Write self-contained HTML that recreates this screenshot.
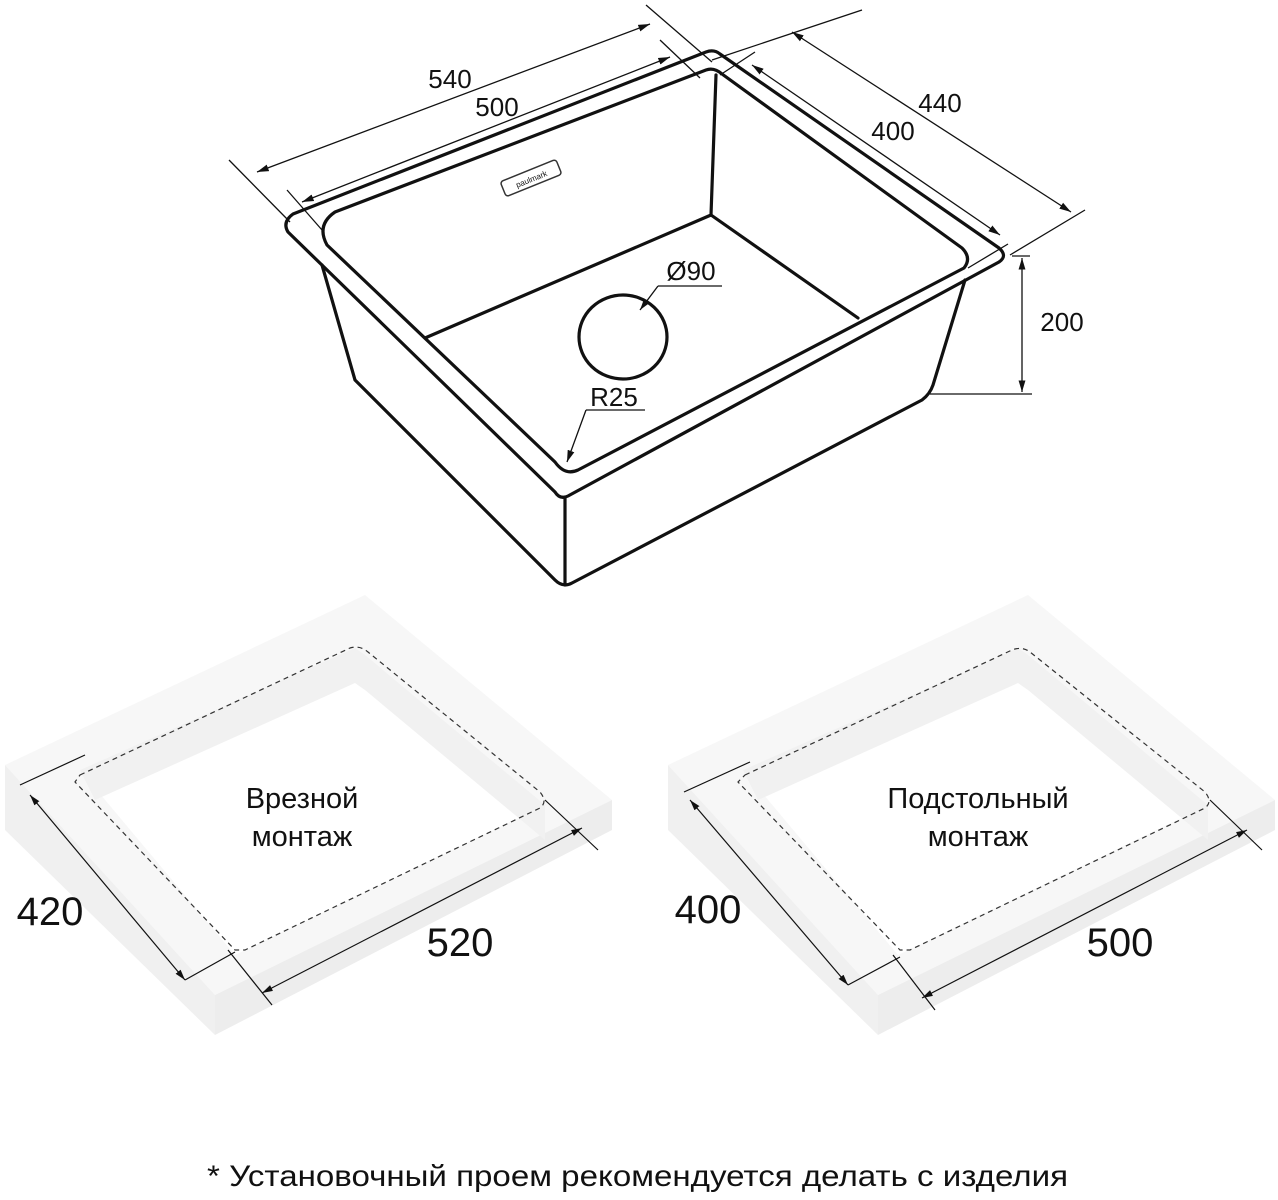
<!DOCTYPE html>
<html><head><meta charset="utf-8"><style>
html,body{margin:0;padding:0;background:#fff}
svg{display:block}
text{font-family:"Liberation Sans",sans-serif;fill:#111}
</style></head><body>
<svg width="1278" height="1200" viewBox="0 0 1278 1200" xmlns="http://www.w3.org/2000/svg">
<defs>
<marker id="a" viewBox="0 0 10 10" refX="10" refY="5" markerWidth="9" markerHeight="9" orient="auto-start-reverse"><path d="M0,2 L10,5 L0,8 z" fill="#111"/></marker>
<g id="slab">
 <polygon points="5,765 365,595 612,800 215,995" fill="#f7f7f7"/>
 <polygon points="5,765 215,995 215,1035 5,830" fill="#f0f0f0"/>
 <polygon points="215,995 612,800 612,830 215,1035" fill="#ededed"/>
 <polygon points="80,770 355,648 545,805 235,955" fill="#fff"/>
 <polygon points="355,648 365,655 365,690 355,683" fill="#f1f1f1"/>
 <polygon points="365,655 545,805 545,840 365,690" fill="#f1f1f1"/>
 <polygon points="80,770 355,648 355,683 95,800" fill="#f1f1f1"/>
</g>
</defs>

<use href="#slab"/>
<g fill="none" stroke="#333" stroke-width="1.2" stroke-dasharray="5,4">
 <path d="M80,775 L350,648 Q360,645 368,652 L540,792 Q548,802 540,808 L245,950 L235,950 L75,782 Z"/>
</g>
<g stroke="#111" stroke-width="1.2" fill="none">
 <line x1="20" y1="785" x2="85" y2="755"/>
 <line x1="30" y1="795" x2="185" y2="980" marker-start="url(#a)" marker-end="url(#a)"/>
 <line x1="185" y1="980" x2="235" y2="952"/>
 <line x1="228" y1="950" x2="272" y2="1005"/>
 <line x1="262" y1="993" x2="582" y2="828" marker-start="url(#a)" marker-end="url(#a)"/>
 <line x1="545" y1="800" x2="598" y2="850"/>
</g>
<text x="50" y="925" font-size="40" text-anchor="middle">420</text>
<text x="460" y="956" font-size="40" text-anchor="middle">520</text>
<text x="302" y="808" font-size="29" text-anchor="middle">Врезной</text>
<text x="302" y="846" font-size="29" text-anchor="middle">монтаж</text>

<g transform="translate(663,0)"><use href="#slab"/></g>
<g fill="none" stroke="#333" stroke-width="1.2" stroke-dasharray="5,4">
 <path d="M745,775 L1012,650 Q1022,646 1030,652 L1205,792 Q1213,802 1205,808 L910,950 L900,950 L738,782 Z"/>
</g>
<g stroke="#111" stroke-width="1.2" fill="none">
 <line x1="684" y1="792" x2="750" y2="762"/>
 <line x1="690" y1="800" x2="848" y2="985" marker-start="url(#a)" marker-end="url(#a)"/>
 <line x1="848" y1="985" x2="900" y2="957"/>
 <line x1="893" y1="955" x2="935" y2="1010"/>
 <line x1="922" y1="998" x2="1247" y2="830" marker-start="url(#a)" marker-end="url(#a)"/>
 <line x1="1210" y1="800" x2="1262" y2="850"/>
</g>
<text x="708" y="923" font-size="40" text-anchor="middle">400</text>
<text x="1120" y="956" font-size="40" text-anchor="middle">500</text>
<text x="978" y="808" font-size="29" text-anchor="middle">Подстольный</text>
<text x="978" y="846" font-size="29" text-anchor="middle">монтаж</text>

<g fill="none" stroke="#111" stroke-width="3.2" stroke-linejoin="round" stroke-linecap="round">
 <path d="M293,214 L706,52 Q714,49 720,54 L999,248 Q1008,256 999,262 L568,496 Q560,500 555,492 L288,232 Q282,222 293,214 Z"/>
 <path d="M335,212 L706,70 Q714,67 722,74 L962,248 Q972,258 964,268 L578,470 Q565,476 555,462 L327,245 Q316,225 335,212 Z"/>
 <line x1="716" y1="75" x2="711" y2="215"/>
 <line x1="711" y1="215" x2="425" y2="338"/>
 <line x1="711" y1="215" x2="858" y2="318"/>
 <path d="M322,265 L355,380 L555,580 Q563,588 572,583 L922,400 Q930,394 933,385 L965,280"/>
 <line x1="565" y1="497" x2="565" y2="585"/>
 <ellipse cx="623" cy="337" rx="44" ry="42"/>
</g>
<g transform="translate(531,178) rotate(-22)">
 <rect x="-30" y="-8" width="60" height="16" rx="3" fill="none" stroke="#333" stroke-width="1.5"/>
 <text x="0" y="4" font-size="8" text-anchor="middle">paulmark</text>
</g>
<g stroke="#111" stroke-width="1.3" fill="none">
 <line x1="658" y1="286" x2="722" y2="286"/>
 <line x1="658" y1="286" x2="640" y2="310" marker-end="url(#a)"/>
 <line x1="586" y1="410" x2="645" y2="410"/>
 <line x1="586" y1="410" x2="567" y2="462" marker-end="url(#a)"/>
 <line x1="229" y1="160" x2="290" y2="222"/>
 <line x1="646" y1="5" x2="712" y2="62"/>
 <line x1="257" y1="172" x2="650" y2="24" marker-start="url(#a)" marker-end="url(#a)"/>
 <line x1="287" y1="190" x2="322" y2="230"/>
 <line x1="660" y1="40" x2="700" y2="78"/>
 <line x1="302" y1="202" x2="670" y2="57" marker-start="url(#a)" marker-end="url(#a)"/>
 <line x1="712" y1="60" x2="862" y2="10"/>
 <line x1="1010" y1="255" x2="1085" y2="210"/>
 <line x1="792" y1="32" x2="1071" y2="212" marker-start="url(#a)" marker-end="url(#a)"/>
 <line x1="720" y1="75" x2="755" y2="52"/>
 <line x1="968" y1="268" x2="1008" y2="244"/>
 <line x1="752" y1="65" x2="1000" y2="235" marker-start="url(#a)" marker-end="url(#a)"/>
 <line x1="1012" y1="256" x2="1030" y2="256"/>
 <line x1="930" y1="394" x2="1032" y2="394"/>
 <line x1="1022" y1="258" x2="1022" y2="392" marker-start="url(#a)" marker-end="url(#a)"/>
</g>
<text x="450" y="88" font-size="26" text-anchor="middle">540</text>
<text x="497" y="116" font-size="26" text-anchor="middle">500</text>
<text x="940" y="112" font-size="26" text-anchor="middle">440</text>
<text x="893" y="140" font-size="26" text-anchor="middle">400</text>
<text x="1062" y="331" font-size="26" text-anchor="middle">200</text>
<text x="691" y="280" font-size="26" text-anchor="middle">Ø90</text>
<text x="614" y="406" font-size="26" text-anchor="middle">R25</text>

<text x="207" y="1186" font-size="30" textLength="861" lengthAdjust="spacingAndGlyphs">* Установочный проем рекомендуется делать с изделия</text>
</svg>
</body></html>
